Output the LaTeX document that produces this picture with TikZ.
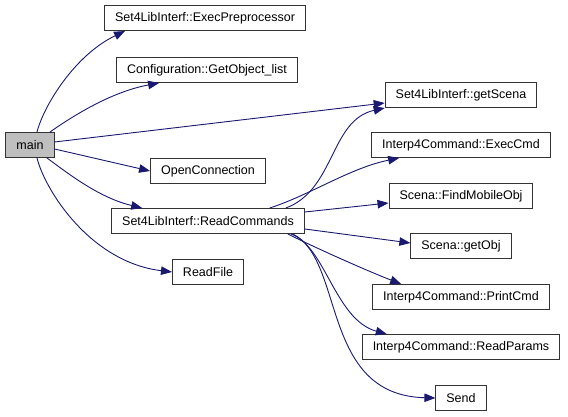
\documentclass[tikz,border=0pt]{standalone}
\usepackage{fontspec}
\setmainfont{Liberation Sans}
\usepackage{tikz}
\usetikzlibrary{calc,positioning,arrows.meta}
\definecolor{edgeblue}{HTML}{191970}
\definecolor{mainfill}{HTML}{BFBFBF}

\begin{document}
\begin{tikzpicture}[x=1pt, y=-1pt, every node/.style={font=\fontsize{12.5}{15}\selectfont},
  fn/.style={draw=black!80, line width=1pt, fill=white, minimum height=25pt, inner xsep=10.5pt, inner ysep=0pt},
  call/.style={draw=edgeblue, line width=0.9pt, -{Triangle[length=11pt, width=8.5pt]}}]
  \useasboundingbox (0,0) rectangle (568,417);
  \node[fn, fill=mainfill] (main) at (30, 145) {main};
  \node[fn] (pre) at (205, 18) {Set4LibInterf::ExecPreprocessor};
  \node[fn] (objlist) at (207, 70) {Configuration::GetObject\_list};
  \node[fn] (conn) at (208, 171) {OpenConnection};
  \node[fn] (readcmd) at (208, 221) {Set4LibInterf::ReadCommands};
  \node[fn] (readfile) at (208, 272) {ReadFile};
  \node[fn] (scena) at (461, 95) {Set4LibInterf::getScena};
  \node[fn] (exec) at (461, 145) {Interp4Command::ExecCmd};
  \node[fn] (findobj) at (461, 196) {Scena::FindMobileObj};
  \node[fn] (getobj) at (461, 246) {Scena::getObj};
  \node[fn] (print) at (461, 297) {Interp4Command::PrintCmd};
  \node[fn] (params) at (461, 347) {Interp4Command::ReadParams};
  \node[fn] (send) at (461, 398) {Send};
  % calls made by main
  \draw[call] ([xshift=7pt]main.north) .. controls (44,105) and (75,55) .. ([xshift=21pt]pre.south west);
  \draw[call] ([xshift=20pt]main.north) .. controls (70,118) and (110,92) .. ([xshift=43pt]objlist.south west);
  \draw[call] ([yshift=3pt]main.east) -- ([yshift=-8pt]scena.west);
  \draw[call] ([yshift=-4pt]main.east) -- (conn.west);
  \draw[call] ([xshift=17pt]main.south) .. controls (70,175) and (100,198) .. ([xshift=31pt]readcmd.north west);
  \draw[call] ([xshift=7pt]main.south) .. controls (45,190) and (90,262) .. (readfile.west);
  % calls made by ReadCommands
  \draw[call] ([xshift=-19pt]readcmd.north east) .. controls (335,190) and (330,120) .. (scena.south west);
  \draw[call] ([xshift=-35pt]readcmd.north east) .. controls (310,195) and (350,168) .. ([xshift=28pt]exec.south west);
  \draw[call] ([yshift=9pt]readcmd.east) -- ([yshift=-7pt]findobj.west);
  \draw[call] ([yshift=-8pt]readcmd.east) -- ([yshift=3pt]getobj.west);
  \draw[call] ([xshift=-17pt]readcmd.south east) .. controls (320,250) and (370,272) .. ([xshift=29pt]print.north west);
  \draw[call] ([xshift=-14pt]readcmd.south east) .. controls (325,245) and (335,320) .. ([xshift=25pt]params.north west);
  \draw[call] ([xshift=-12pt]readcmd.south east) .. controls (345,260) and (320,395) .. (send.west);
\end{tikzpicture}
\end{document}
